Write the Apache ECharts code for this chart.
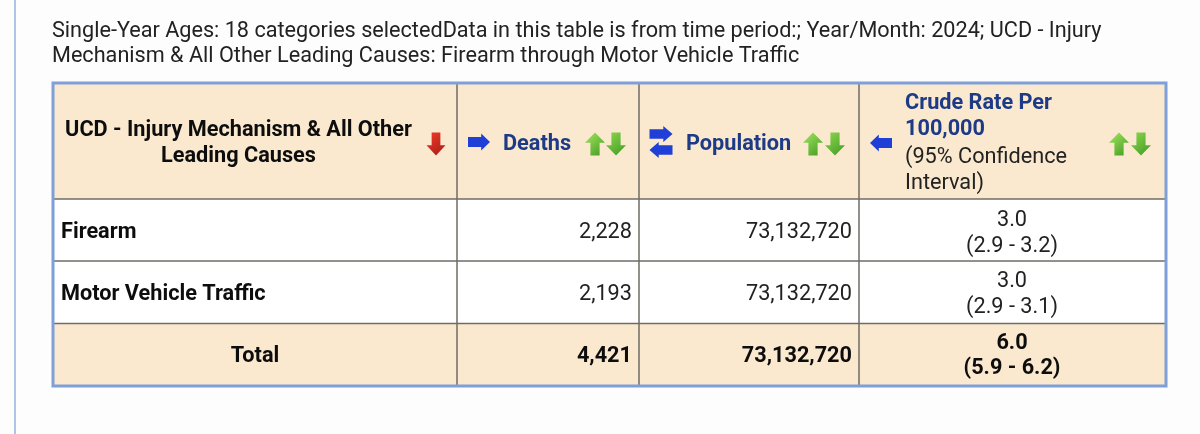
<!DOCTYPE html>
<html>
<head>
<meta charset="utf-8">
<style>html,body{margin:0;padding:0;background:#fdfdfe}#main{width:1200px;height:434px}</style>
<script src="https://cdn.jsdelivr.net/npm/echarts@6/dist/echarts.min.js"></script>
</head>
<body>
<div id="main"></div>
<script>
// table data
const titleLines = [
    'Single-Year Ages: 18 categories selectedData in this table is from time period:; Year/Month: 2024; UCD - Injury',
    'Mechanism & All Other Leading Causes: Firearm through Motor Vehicle Traffic'
];
const headerCause = ['UCD - Injury Mechanism & All Other', 'Leading Causes'];
const headerDeaths = 'Deaths';
const headerPopulation = 'Population';
const headerRate = ['Crude Rate Per', '100,000'];
const headerInterval = ['(95% Confidence', 'Interval)'];
const causes = ['Firearm', 'Motor Vehicle Traffic'];
const deaths = [2228, 2193];
const population = [73132720, 73132720];
const rates = [3.0, 3.0];
const rateLow = [2.9, 2.9];
const rateHigh = [3.2, 3.1];
const totalLabel = 'Total';
const totalDeaths = 4421;
const totalPopulation = 73132720;
const totalRate = 6.0;
const totalLow = 5.9;
const totalHigh = 6.2;

// layout
const colEdges = [53, 457, 639, 859, 1166];
const rowEdges = [83, 199, 261, 323.5, 386];
const rowLines = [[221, 247], [282, 308], [344, 369]];
const rowMid = [233, 295, 357];

const FONT = 'Roboto';
const SIZE = 21.7;
const NAVY = '#1d3a86';
const INK = '#0d0d0d';
const SAND = '#fae9cf';

const fmt = function (n) { return n.toLocaleString('en-US'); };
const interval = function (a, b) { return '(' + a.toFixed(1) + ' - ' + b.toFixed(1) + ')'; };

function label(x, y, str, align, weight, color) {
    return {
        type: 'text',
        style: {
            x: x, y: y, text: str, align: align, verticalAlign: 'middle',
            font: weight + ' ' + SIZE + 'px ' + FONT, fill: color
        }
    };
}

function arrowUp(cx, cy, w, h, c1, c2) {
    return {
        type: 'polygon',
        shape: { points: [
            [cx, cy - h / 2], [cx + w / 2, cy - h * 0.05], [cx + w * 0.23, cy - h * 0.05],
            [cx + w * 0.23, cy + h / 2], [cx - w * 0.23, cy + h / 2], [cx - w * 0.23, cy - h * 0.05],
            [cx - w / 2, cy - h * 0.05]
        ] },
        style: { fill: new echarts.graphic.LinearGradient(0, 0, 1, 1, [{ offset: 0, color: c1 }, { offset: 1, color: c2 }]) }
    };
}

function arrowDown(cx, cy, w, h, c1, c2) {
    return {
        type: 'polygon',
        shape: { points: [
            [cx, cy + h / 2], [cx + w / 2, cy + h * 0.05], [cx + w * 0.23, cy + h * 0.05],
            [cx + w * 0.23, cy - h / 2], [cx - w * 0.23, cy - h / 2], [cx - w * 0.23, cy + h * 0.05],
            [cx - w / 2, cy + h * 0.05]
        ] },
        style: { fill: new echarts.graphic.LinearGradient(0, 0, 1, 1, [{ offset: 0, color: c1 }, { offset: 1, color: c2 }]) }
    };
}

function arrowSide(cx, cy, w, h, dir) {
    const s = dir;
    return {
        type: 'polygon',
        shape: { points: [
            [cx + s * w / 2, cy], [cx + s * w * 0.1, cy - h / 2], [cx + s * w * 0.1, cy - h * 0.29],
            [cx - s * w / 2, cy - h * 0.29], [cx - s * w / 2, cy + h * 0.29], [cx + s * w * 0.1, cy + h * 0.29],
            [cx + s * w * 0.1, cy + h / 2]
        ] },
        style: { fill: '#1f3fd6' }
    };
}

function sortPair(xUp, xDown, y) {
    return [
        arrowUp(xUp, y, 20, 23, '#a6e660', '#3f9a22'),
        arrowDown(xDown, y, 20, 23, '#8fd850', '#3f9a22')
    ];
}

function headerCells() {
    const out = [];
    headerCause.forEach(function (t, i) { out.push(label(238.5, 131 + i * 25.5, t, 'center', 'bold', INK)); });
    out.push(arrowDown(436, 144, 19, 23, '#ee3a2a', '#a81c14'));
    out.push(arrowSide(479, 142, 22, 17, 1));
    out.push(label(503, 145, headerDeaths, 'left', 'bold', NAVY));
    out.push.apply(out, sortPair(595, 616, 144));
    out.push(arrowSide(661, 134, 23, 16, 1));
    out.push(arrowSide(661, 150, 23, 16, -1));
    out.push(label(686, 145, headerPopulation, 'left', 'bold', NAVY));
    out.push.apply(out, sortPair(813, 835, 144));
    out.push(arrowSide(881, 143, 22, 17, -1));
    headerRate.forEach(function (t, i) { out.push(label(905, 104 + i * 26, t, 'left', 'bold', NAVY)); });
    headerInterval.forEach(function (t, i) { out.push(label(905, 158 + i * 26, t, 'left', 'normal', '#222')); });
    out.push.apply(out, sortPair(1119, 1141, 144));
    return out;
}

function bodyRow(i) {
    return [
        label(61, rowMid[i], causes[i], 'left', 'bold', INK),
        label(632, rowMid[i], fmt(deaths[i]), 'right', 'normal', '#222'),
        label(852, rowMid[i], fmt(population[i]), 'right', 'normal', '#222'),
        label(1012, rowLines[i][0], rates[i].toFixed(1), 'center', 'normal', '#222'),
        label(1012, rowLines[i][1], interval(rateLow[i], rateHigh[i]), 'center', 'normal', '#222')
    ];
}

function totalRow() {
    return [
        label(255, rowMid[2], totalLabel, 'center', 'bold', INK),
        label(632, rowMid[2], fmt(totalDeaths), 'right', 'bold', INK),
        label(852, rowMid[2], fmt(totalPopulation), 'right', 'bold', INK),
        label(1012, rowLines[2][0], totalRate.toFixed(1), 'center', 'bold', INK),
        label(1012, rowLines[2][1], interval(totalLow, totalHigh), 'center', 'bold', INK)
    ];
}

function rect(x, y, w, h, fill) {
    return { type: 'rect', shape: { x: x, y: y, width: w, height: h }, style: { fill: fill } };
}

function gridLines() {
    const out = [];
    const left = colEdges[0], right = colEdges[4], top = rowEdges[0], bottom = rowEdges[4];
    colEdges.slice(1, 4).forEach(function (x) {
        out.push({ type: 'line', shape: { x1: x, y1: top, x2: x, y2: bottom }, style: { stroke: '#6f6c66', lineWidth: 1.5 } });
    });
    rowEdges.slice(1, 4).forEach(function (y) {
        out.push({ type: 'line', shape: { x1: left, y1: y, x2: right, y2: y }, style: { stroke: '#6f6c66', lineWidth: 1.5 } });
    });
    out.push({
        type: 'rect', shape: { x: left, y: top, width: right - left, height: bottom - top },
        style: { fill: 'none', stroke: '#7f9fd9', lineWidth: 3 }
    });
    return out;
}

function renderTable(params) {
    let children = [];
    if (params.dataIndex === 0) {
        children.push(rect(colEdges[0], rowEdges[0], colEdges[4] - colEdges[0], rowEdges[1] - rowEdges[0], SAND));
        children.push(rect(colEdges[0], rowEdges[1], colEdges[4] - colEdges[0], rowEdges[3] - rowEdges[1], '#ffffff'));
        children.push(rect(colEdges[0], rowEdges[3], colEdges[4] - colEdges[0], rowEdges[4] - rowEdges[3], SAND));
        children = children.concat(gridLines(), headerCells());
    } else if (params.dataIndex <= causes.length) {
        children = bodyRow(params.dataIndex - 1);
    } else {
        children = totalRow();
    }
    return { type: 'group', children: children };
}

const chart = echarts.init(document.getElementById('main'), null, { renderer: 'canvas' });
chart.setOption({
    animation: false,
    backgroundColor: '#fdfdfe',
    title: {
        left: 47, top: 14,
        text: titleLines.join('\n'),
        textStyle: { fontFamily: FONT, fontSize: 21.65, fontWeight: 'normal', color: '#222', lineHeight: 25 }
    },
    graphic: [
        { type: 'rect', shape: { x: 14, y: 0, width: 2, height: 434 }, style: { fill: '#aec4e8' } }
    ],
    series: [{
        type: 'custom',
        coordinateSystem: 'none',
        renderItem: renderTable,
        data: [0].concat(causes.map(function (c, i) { return i + 1; }), [causes.length + 1])
    }]
});
</script>
</body>
</html>
